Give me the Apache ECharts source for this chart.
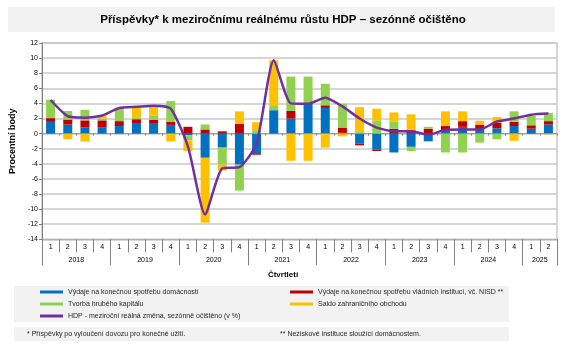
<!DOCTYPE html>
<html>
<head>
<meta charset="utf-8">
<script src="https://cdn.jsdelivr.net/npm/echarts@6/dist/echarts.min.js"></script>
<style>
html,body{margin:0;padding:0;background:#fff;}
#c{width:565px;height:346px;}
</style>
</head>
<body>
<div id="c"></div>
<script>
// ---- data ----
var years = ['2018','2019','2020','2021','2022','2023','2024','2025'];
var quartersPerYear = [4,4,4,4,4,4,4,2];
var quarterLabels = ['1','2','3','4','1','2','3','4','1','2','3','4','1','2','3','4',
                     '1','2','3','4','1','2','3','4','1','2','3','4','1','2'];
var households = [1.55,1.2,0.8,0.85,1.0,1.3,1.3,1.15,-0.2,-3.2,-1.85,-4.1,-2.7,3.1,2.0,3.95,
                  3.4,0.1,-1.3,-2.1,-2.5,-1.75,-1.0,0.35,0.9,0.55,0.7,1.0,0.65,1.2];
var government = [0.5,0.65,0.95,0.9,0.65,0.6,0.5,0.4,0.9,0.55,0.3,1.3,-0.1,0.0,1.0,0.0,
                  0.35,0.7,-0.25,-0.2,0.65,0.45,0.65,0.65,0.75,0.65,0.75,0.55,0.45,0.45];
var capital = [2.45,1.15,1.4,0.25,1.75,0.25,0.55,2.75,-0.7,0.65,-2.25,-3.45,0.45,0.55,4.55,3.6,
               2.85,3.15,0.2,1.75,0.9,-0.55,0.25,-2.5,-2.5,-1.2,-0.75,1.4,1.25,1.1];
var netExports = [0.0,-0.75,-1.05,0.45,0.0,1.45,1.3,-1.05,-1.4,-8.6,-0.8,1.65,1.05,6.05,-3.6,-3.6,
                  -1.85,-0.35,3.3,1.55,1.25,2.1,-0.1,1.95,1.3,0.5,0.75,-0.95,0.0,-0.1];
var gdp = [4.45,2.3,2.1,2.4,3.4,3.55,3.7,3.3,-1.7,-10.7,-4.6,-4.45,-1.3,9.7,4.0,3.95,
           4.75,3.6,2.0,0.8,0.3,0.3,-0.15,0.5,0.55,0.55,1.6,2.0,2.5,2.65];
var yTicks = {min:-14, max:12, step:2};

var names = [
  'Výdaje na konečnou spotřebu domácností',
  'Výdaje na konečnou spotřebu vládních institucí, vč. NISD **',
  'Tvorba hrubého kapitálu',
  'Saldo zahraničního obchodu',
  'HDP - meziroční reálná změna, sezónně očištěno (v %)'
];
var colors = ['#0070C0','#C00000','#92D050','#FFC000','#7030A0'];

// year boundaries / centers derived from quarter counts
var yearBounds = [0], yearCenters = [];
(function(){var acc=0;for(var i=0;i<quartersPerYear.length;i++){yearCenters.push(acc+quartersPerYear[i]/2);acc+=quartersPerYear[i];yearBounds.push(acc);}})();

var font = 'Liberation Sans, Arial, sans-serif';
var chart = echarts.init(document.getElementById('c'), null, {renderer:'canvas'});

function barSeries(idx, data){
  return {name:names[idx], type:'bar', stack:'s', data:data, barWidth:9,
    itemStyle:{color:colors[idx]}, emphasis:{disabled:true}};
}

var option = {
  animation:false,
  textStyle:{fontFamily:font},
  graphic:[
    {type:'rect', shape:{x:8,y:7,width:547,height:25}, style:{fill:'#f2f2f2'}, silent:true, z:-10},
    {type:'text', x:283, y:19.5, style:{text:'Příspěvky* k meziročnímu reálnému růstu HDP – sezónně očištěno',
      font:'bold 11.5px '+font, fill:'#000', textAlign:'center', textVerticalAlign:'middle'}},
    {type:'text', x:283, y:275, style:{text:'Čtvrtletí', font:'bold 8px '+font, fill:'#000', textAlign:'center', textVerticalAlign:'middle'}},
    {type:'rect', shape:{x:14,y:286,width:495,height:36}, style:{fill:'#f2f2f2'}, silent:true, z:-10},
    {type:'rect', shape:{x:14,y:327,width:495,height:14}, style:{fill:'#f2f2f2'}, silent:true, z:-10},
    {type:'text', x:27, y:334, style:{text:'* Příspěvky po vyloučení dovozu pro konečné užití.', font:'7px '+font, fill:'#262626', textVerticalAlign:'middle'}},
    {type:'text', x:280, y:334, style:{text:'** Neziskové instituce sloužící domácnostem.', font:'7px '+font, fill:'#262626', textVerticalAlign:'middle'}}
  ],
  legend:[
    {orient:'vertical', left:40, top:287.5, padding:0, itemWidth:23, itemHeight:3, itemGap:3, icon:'rect',
     textStyle:{fontSize:7, lineHeight:9, color:'#262626', fontFamily:font},
     data:[names[0], names[2], names[4]], selectedMode:false},
    {orient:'vertical', left:290, top:287.5, padding:0, itemWidth:23, itemHeight:3, itemGap:3, icon:'rect',
     textStyle:{fontSize:7, lineHeight:9, color:'#262626', fontFamily:font},
     data:[names[1], names[3]], selectedMode:false}
  ],
  grid:{left:38.5, right:8, top:43, bottom:106.7, show:true, borderColor:'#c8c8c8', borderWidth:1.5, backgroundColor:'transparent'},
  xAxis:[
    {type:'category', data:quarterLabels, position:'bottom', boundaryGap:true,
     axisLine:{onZero:false, show:true, lineStyle:{color:'#b0b0b0', width:1}},
     axisTick:{show:true, interval:0, length:13, lineStyle:{color:'#808080'}},
     axisLabel:{interval:0, fontSize:7, color:'#000', margin:4},
     splitLine:{show:false}},
    {type:'value', min:0, max:quarterLabels.length, position:'bottom',
     axisLine:{show:false, onZero:false},
     axisTick:{show:true, customValues:yearBounds, length:26, lineStyle:{color:'#808080'}},
     axisLabel:{show:true, customValues:yearCenters, fontSize:7, color:'#000', margin:17,
       formatter:function(v){for(var i=0;i<yearCenters.length;i++){if(Math.abs(yearCenters[i]-v)<1e-6)return years[i];}return '';}},
     splitLine:{show:false}},
    {type:'category', data:quarterLabels, position:'bottom', boundaryGap:true,
     axisLine:{onZero:true, show:true, lineStyle:{color:'#a0a0a0', width:1.2}},
     axisTick:{show:true, interval:0, length:2, lineStyle:{color:'#808080'}},
     axisLabel:{show:false}, splitLine:{show:false}}
  ],
  yAxis:{type:'value', min:yTicks.min, max:yTicks.max, interval:yTicks.step,
    name:'Procentní body', nameLocation:'middle', nameGap:22, nameRotate:90,
    nameTextStyle:{fontSize:9, fontWeight:'bold', color:'#000', fontFamily:font},
    axisLine:{show:true, lineStyle:{color:'#808080'}},
    axisTick:{show:true, length:3, lineStyle:{color:'#808080'}},
    axisLabel:{fontSize:7, color:'#000', margin:4},
    splitLine:{show:true, lineStyle:{color:'#c8c8c8', width:1.5}}},
  series:[
    barSeries(0, households),
    barSeries(1, government),
    barSeries(2, capital),
    barSeries(3, netExports),
    {name:names[4], type:'line', data:gdp, smooth:0.2, showSymbol:false, symbol:'none',
     lineStyle:{color:colors[4], width:2.5}, itemStyle:{color:colors[4]}, z:5, emphasis:{disabled:true}}
  ]
};
chart.setOption(option);
</script>
</body>
</html>
